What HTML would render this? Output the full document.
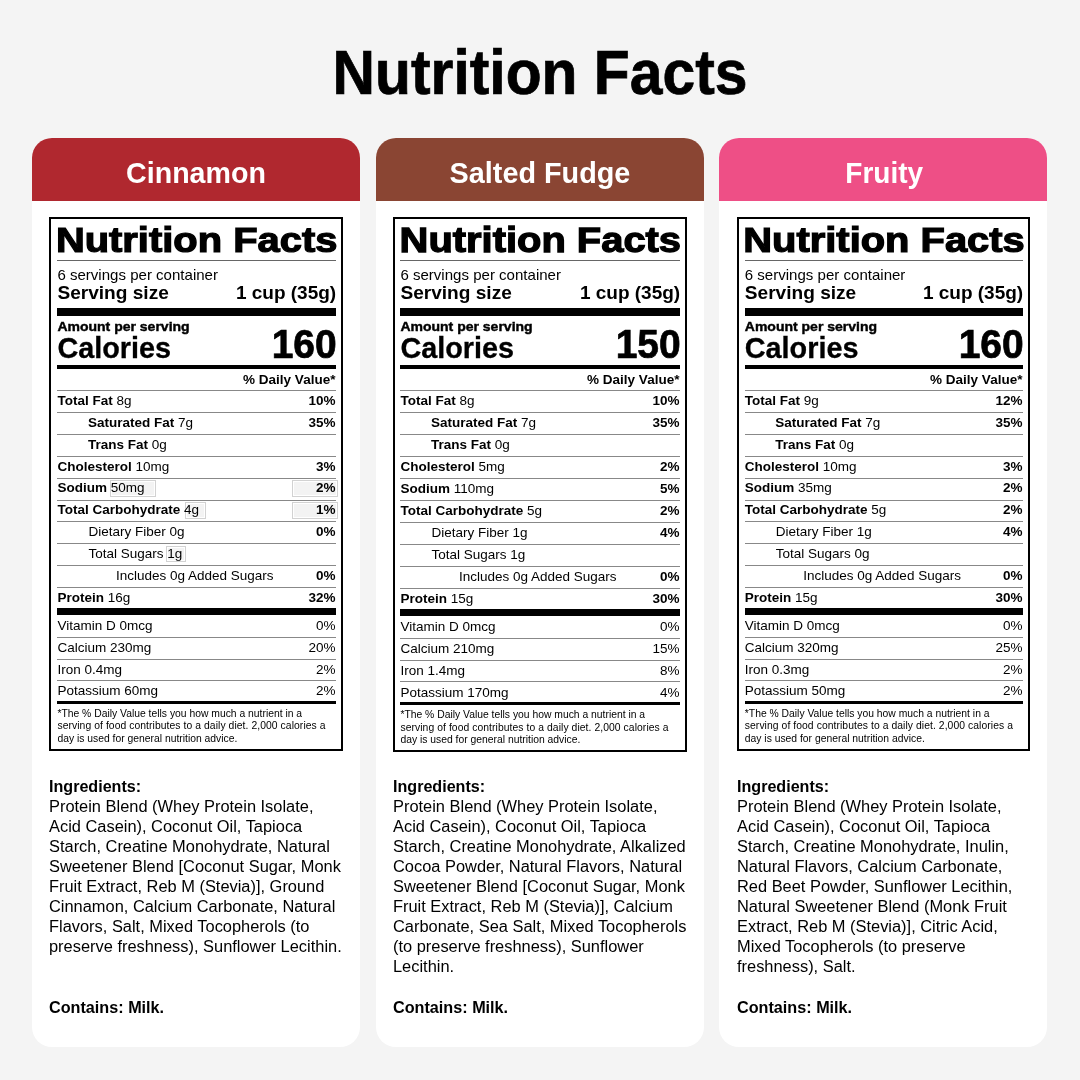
<!DOCTYPE html>
<html><head><meta charset="utf-8"><title>Nutrition Facts</title>
<style>
html,body{margin:0;padding:0;}
body{width:1080px;height:1080px;background:#f4f4f4;position:relative;overflow:hidden;font-family:"Liberation Sans", Arial, sans-serif;color:#000;}
.t{position:absolute;white-space:nowrap;line-height:1;}
.t b{font-weight:700;}
.r{position:absolute;}
.art{position:absolute;box-sizing:border-box;border:1px solid #d2d2d2;background:#f3f3f3;box-shadow:inset 0 0 0 1px #fff;}
.card{position:absolute;top:138px;width:328px;height:909px;background:#fff;border-radius:20px;overflow:hidden;}
.hd{position:absolute;left:0;top:0;width:100%;height:63px;}
.box{position:absolute;top:217px;width:294px;height:534px;border:2px solid #000;box-sizing:border-box;background:#fff;}
</style></head><body>
<div class="t" style="left:310.00px;width:460px;text-align:center;top:44.93px;font-size:58.80px;font-weight:700;transform:scale(1.0000,1.0645);transform-origin:50% 49.77px;-webkit-text-stroke:0.7px #000;">Nutrition Facts</div>
<div class="card" style="left:32px;"><div class="hd" style="background:#b0282f"></div></div>
<div class="t" style="left:-34.00px;width:460px;text-align:center;top:158.89px;font-size:28.60px;font-weight:700;transform:scale(1.0000,1.0622);transform-origin:50% 24.21px;color:#fff;">Cinnamon</div>
<div class="box" style="left:49px;width:294px;height:534px;"></div>
<div class="art" style="left:110.0px;top:480.2px;width:45.5px;height:17.0px;"></div>
<div class="art" style="left:184.8px;top:502.4px;width:20.8px;height:16.6px;"></div>
<div class="art" style="left:165.6px;top:546.4px;width:20.0px;height:16.0px;"></div>
<div class="art" style="left:292.3px;top:480.3px;width:45.4px;height:16.8px;"></div>
<div class="art" style="left:292.3px;top:502.3px;width:45.4px;height:16.6px;"></div>
<div class="t" style="left:55.90px;top:218.72px;font-size:39.90px;font-weight:700;transform:scale(1.0000,0.8597);transform-origin:0 33.78px;-webkit-text-stroke:1.40px #000;">Nutrition Facts</div>
<div class="r" style="left:57.40px;top:260.00px;width:278.60px;height:1.00px;background:#666;"></div>
<div class="t" style="left:57.40px;top:267.16px;font-size:15.05px;transform:scale(1.0000,0.9300);transform-origin:0 12.74px;">6 servings per container</div>
<div class="t" style="left:57.40px;top:283.13px;font-size:19.10px;font-weight:700;transform:scale(1.0000,0.9350);transform-origin:0 16.17px;">Serving size</div>
<div class="t" style="right:743.80px;top:283.22px;font-size:19.00px;font-weight:700;transform:scale(1.0000,0.9350);transform-origin:100% 16.08px;">1 cup (35g)</div>
<div class="r" style="left:57.40px;top:308.00px;width:278.60px;height:7.50px;background:#000;"></div>
<div class="t" style="left:57.40px;top:319.05px;font-size:14.00px;font-weight:700;transform:scale(1.0000,0.9600);transform-origin:0 11.85px;-webkit-text-stroke:0.45px #000;">Amount per serving</div>
<div class="t" style="left:57.40px;top:333.82px;font-size:28.80px;font-weight:700;transform:scale(1.0000,1.0500);transform-origin:0 24.38px;-webkit-text-stroke:0.3px #000;">Calories</div>
<div class="t" style="right:743.30px;top:324.99px;font-size:39.00px;font-weight:700;transform:scale(1.0000,1.0600);transform-origin:100% 33.01px;-webkit-text-stroke:0.7px #000;">160</div>
<div class="r" style="left:57.40px;top:365.00px;width:278.60px;height:3.70px;background:#000;"></div>
<div class="t" style="right:744.60px;top:372.67px;font-size:13.50px;font-weight:700;transform-origin:100% 11.43px;">% Daily Value*</div>
<div class="r" style="left:57.40px;top:390.40px;width:278.60px;height:1.00px;background:#888;"></div>
<div class="t" style="left:57.40px;top:394.17px;font-size:13.50px;transform-origin:0 11.43px;"><b>Total Fat</b> 8g</div>
<div class="t" style="right:744.60px;top:394.17px;font-size:13.50px;font-weight:700;transform-origin:100% 11.43px;">10%</div>
<div class="r" style="left:57.40px;top:412.23px;width:278.60px;height:1.00px;background:#888;"></div>
<div class="t" style="left:87.90px;top:416.00px;font-size:13.50px;transform-origin:0 11.43px;"><b>Saturated Fat</b> 7g</div>
<div class="t" style="right:744.60px;top:416.00px;font-size:13.50px;font-weight:700;transform-origin:100% 11.43px;">35%</div>
<div class="r" style="left:57.40px;top:434.06px;width:278.60px;height:1.00px;background:#888;"></div>
<div class="t" style="left:87.90px;top:437.83px;font-size:13.50px;transform-origin:0 11.43px;"><b>Trans Fat</b> 0g</div>
<div class="r" style="left:57.40px;top:455.89px;width:278.60px;height:1.00px;background:#888;"></div>
<div class="t" style="left:57.40px;top:459.66px;font-size:13.50px;transform-origin:0 11.43px;"><b>Cholesterol</b> 10mg</div>
<div class="t" style="right:744.60px;top:459.66px;font-size:13.50px;font-weight:700;transform-origin:100% 11.43px;">3%</div>
<div class="r" style="left:57.40px;top:477.72px;width:278.60px;height:1.00px;background:#888;"></div>
<div class="t" style="left:57.40px;top:481.49px;font-size:13.50px;transform-origin:0 11.43px;"><b>Sodium</b> 50mg</div>
<div class="t" style="right:744.60px;top:481.49px;font-size:13.50px;font-weight:700;transform-origin:100% 11.43px;">2%</div>
<div class="r" style="left:57.40px;top:499.55px;width:278.60px;height:1.00px;background:#888;"></div>
<div class="t" style="left:57.40px;top:503.32px;font-size:13.50px;transform-origin:0 11.43px;"><b>Total Carbohydrate</b> 4g</div>
<div class="t" style="right:744.60px;top:503.32px;font-size:13.50px;font-weight:700;transform-origin:100% 11.43px;">1%</div>
<div class="r" style="left:57.40px;top:521.38px;width:278.60px;height:1.00px;background:#888;"></div>
<div class="t" style="left:88.40px;top:525.15px;font-size:13.50px;transform-origin:0 11.43px;">Dietary Fiber 0g</div>
<div class="t" style="right:744.60px;top:525.15px;font-size:13.50px;font-weight:700;transform-origin:100% 11.43px;">0%</div>
<div class="r" style="left:57.40px;top:543.21px;width:278.60px;height:1.00px;background:#888;"></div>
<div class="t" style="left:88.40px;top:546.98px;font-size:13.50px;transform-origin:0 11.43px;">Total Sugars 1g</div>
<div class="r" style="left:57.40px;top:565.04px;width:278.60px;height:1.00px;background:#888;"></div>
<div class="t" style="left:115.90px;top:568.81px;font-size:13.50px;transform-origin:0 11.43px;">Includes 0g Added Sugars</div>
<div class="t" style="right:744.60px;top:568.81px;font-size:13.50px;font-weight:700;transform-origin:100% 11.43px;">0%</div>
<div class="r" style="left:57.40px;top:586.87px;width:278.60px;height:1.00px;background:#888;"></div>
<div class="t" style="left:57.40px;top:590.64px;font-size:13.50px;transform-origin:0 11.43px;"><b>Protein</b> 16g</div>
<div class="t" style="right:744.60px;top:590.64px;font-size:13.50px;font-weight:700;transform-origin:100% 11.43px;">32%</div>
<div class="r" style="left:57.40px;top:607.70px;width:278.60px;height:7.00px;background:#000;"></div>
<div class="t" style="left:57.40px;top:618.67px;font-size:13.50px;transform-origin:0 11.43px;">Vitamin D 0mcg</div>
<div class="t" style="right:744.60px;top:618.67px;font-size:13.50px;transform-origin:100% 11.43px;">0%</div>
<div class="r" style="left:57.40px;top:636.90px;width:278.60px;height:1.00px;background:#888;"></div>
<div class="t" style="left:57.40px;top:640.97px;font-size:13.50px;transform-origin:0 11.43px;">Calcium 230mg</div>
<div class="t" style="right:744.60px;top:640.97px;font-size:13.50px;transform-origin:100% 11.43px;">20%</div>
<div class="r" style="left:57.40px;top:658.50px;width:278.60px;height:1.00px;background:#888;"></div>
<div class="t" style="left:57.40px;top:662.77px;font-size:13.50px;transform-origin:0 11.43px;">Iron 0.4mg</div>
<div class="t" style="right:744.60px;top:662.77px;font-size:13.50px;transform-origin:100% 11.43px;">2%</div>
<div class="r" style="left:57.40px;top:680.30px;width:278.60px;height:1.00px;background:#888;"></div>
<div class="t" style="left:57.40px;top:684.37px;font-size:13.50px;transform-origin:0 11.43px;">Potassium 60mg</div>
<div class="t" style="right:744.60px;top:684.37px;font-size:13.50px;transform-origin:100% 11.43px;">2%</div>
<div class="r" style="left:57.40px;top:700.80px;width:278.60px;height:3.00px;background:#000;"></div>
<div class="t" style="left:57.40px;top:708.74px;font-size:10.35px;transform-origin:0 8.76px;">*The % Daily Value tells you how much a nutrient in a</div>
<div class="t" style="left:57.40px;top:721.24px;font-size:10.35px;transform-origin:0 8.76px;letter-spacing:0.07px;">serving of food contributes to a daily diet. 2,000 calories a</div>
<div class="t" style="left:57.40px;top:733.74px;font-size:10.35px;transform-origin:0 8.76px;">day is used for general nutrition advice.</div>
<div class="t" style="left:49.00px;top:777.87px;font-size:16.10px;font-weight:700;transform-origin:0 13.63px;">Ingredients:</div>
<div class="t" style="left:49.00px;top:798.00px;font-size:16.42px;transform-origin:0 13.90px;">Protein Blend (Whey Protein Isolate,</div>
<div class="t" style="left:49.00px;top:818.00px;font-size:16.42px;transform-origin:0 13.90px;">Acid Casein), Coconut Oil, Tapioca</div>
<div class="t" style="left:49.00px;top:838.00px;font-size:16.42px;transform-origin:0 13.90px;">Starch, Creatine Monohydrate, Natural</div>
<div class="t" style="left:49.00px;top:858.00px;font-size:16.42px;transform-origin:0 13.90px;">Sweetener Blend [Coconut Sugar, Monk</div>
<div class="t" style="left:49.00px;top:878.00px;font-size:16.42px;transform-origin:0 13.90px;">Fruit Extract, Reb M (Stevia)], Ground</div>
<div class="t" style="left:49.00px;top:898.00px;font-size:16.42px;transform-origin:0 13.90px;">Cinnamon, Calcium Carbonate, Natural</div>
<div class="t" style="left:49.00px;top:918.00px;font-size:16.42px;transform-origin:0 13.90px;">Flavors, Salt, Mixed Tocopherols (to</div>
<div class="t" style="left:49.00px;top:938.00px;font-size:16.42px;transform-origin:0 13.90px;">preserve freshness), Sunflower Lecithin.</div>
<div class="t" style="left:49.00px;top:999.39px;font-size:16.20px;font-weight:700;transform-origin:0 13.71px;">Contains: Milk.</div>
<div class="card" style="left:376px;"><div class="hd" style="background:#8a4533"></div></div>
<div class="t" style="left:310.00px;width:460px;text-align:center;top:158.72px;font-size:28.80px;font-weight:700;transform:scale(1.0000,1.0548);transform-origin:50% 24.38px;color:#fff;">Salted Fudge</div>
<div class="box" style="left:393px;width:294px;height:535px;"></div>
<div class="t" style="left:399.60px;top:219.02px;font-size:39.90px;font-weight:700;transform:scale(1.0000,0.8941);transform-origin:0 33.78px;-webkit-text-stroke:1.40px #000;">Nutrition Facts</div>
<div class="r" style="left:400.40px;top:260.00px;width:279.60px;height:1.00px;background:#666;"></div>
<div class="t" style="left:400.40px;top:267.16px;font-size:15.05px;transform:scale(1.0000,0.9300);transform-origin:0 12.74px;">6 servings per container</div>
<div class="t" style="left:400.40px;top:283.13px;font-size:19.10px;font-weight:700;transform:scale(1.0000,0.9350);transform-origin:0 16.17px;">Serving size</div>
<div class="t" style="right:399.80px;top:283.22px;font-size:19.00px;font-weight:700;transform:scale(1.0000,0.9350);transform-origin:100% 16.08px;">1 cup (35g)</div>
<div class="r" style="left:400.40px;top:308.00px;width:279.60px;height:7.50px;background:#000;"></div>
<div class="t" style="left:400.40px;top:319.05px;font-size:14.00px;font-weight:700;transform:scale(1.0000,0.9600);transform-origin:0 11.85px;-webkit-text-stroke:0.45px #000;">Amount per serving</div>
<div class="t" style="left:400.40px;top:333.82px;font-size:28.80px;font-weight:700;transform:scale(1.0000,1.0500);transform-origin:0 24.38px;-webkit-text-stroke:0.3px #000;">Calories</div>
<div class="t" style="right:399.30px;top:324.99px;font-size:39.00px;font-weight:700;transform:scale(1.0000,1.0600);transform-origin:100% 33.01px;-webkit-text-stroke:0.7px #000;">150</div>
<div class="r" style="left:400.40px;top:365.00px;width:279.60px;height:3.70px;background:#000;"></div>
<div class="t" style="right:400.60px;top:372.67px;font-size:13.50px;font-weight:700;transform-origin:100% 11.43px;">% Daily Value*</div>
<div class="r" style="left:400.40px;top:390.40px;width:279.60px;height:1.00px;background:#888;"></div>
<div class="t" style="left:400.40px;top:394.17px;font-size:13.50px;transform-origin:0 11.43px;"><b>Total Fat</b> 8g</div>
<div class="t" style="right:400.60px;top:394.17px;font-size:13.50px;font-weight:700;transform-origin:100% 11.43px;">10%</div>
<div class="r" style="left:400.40px;top:412.23px;width:279.60px;height:1.00px;background:#888;"></div>
<div class="t" style="left:430.90px;top:416.00px;font-size:13.50px;transform-origin:0 11.43px;"><b>Saturated Fat</b> 7g</div>
<div class="t" style="right:400.60px;top:416.00px;font-size:13.50px;font-weight:700;transform-origin:100% 11.43px;">35%</div>
<div class="r" style="left:400.40px;top:434.06px;width:279.60px;height:1.00px;background:#888;"></div>
<div class="t" style="left:430.90px;top:437.83px;font-size:13.50px;transform-origin:0 11.43px;"><b>Trans Fat</b> 0g</div>
<div class="r" style="left:400.40px;top:455.89px;width:279.60px;height:1.00px;background:#888;"></div>
<div class="t" style="left:400.40px;top:459.66px;font-size:13.50px;transform-origin:0 11.43px;"><b>Cholesterol</b> 5mg</div>
<div class="t" style="right:400.60px;top:459.66px;font-size:13.50px;font-weight:700;transform-origin:100% 11.43px;">2%</div>
<div class="r" style="left:400.40px;top:478.32px;width:279.60px;height:1.00px;background:#888;"></div>
<div class="t" style="left:400.40px;top:482.09px;font-size:13.50px;transform-origin:0 11.43px;"><b>Sodium</b> 110mg</div>
<div class="t" style="right:400.60px;top:482.09px;font-size:13.50px;font-weight:700;transform-origin:100% 11.43px;">5%</div>
<div class="r" style="left:400.40px;top:500.26px;width:279.60px;height:1.00px;background:#888;"></div>
<div class="t" style="left:400.40px;top:504.03px;font-size:13.50px;transform-origin:0 11.43px;"><b>Total Carbohydrate</b> 5g</div>
<div class="t" style="right:400.60px;top:504.03px;font-size:13.50px;font-weight:700;transform-origin:100% 11.43px;">2%</div>
<div class="r" style="left:400.40px;top:522.21px;width:279.60px;height:1.00px;background:#888;"></div>
<div class="t" style="left:431.40px;top:525.98px;font-size:13.50px;transform-origin:0 11.43px;">Dietary Fiber 1g</div>
<div class="t" style="right:400.60px;top:525.98px;font-size:13.50px;font-weight:700;transform-origin:100% 11.43px;">4%</div>
<div class="r" style="left:400.40px;top:544.15px;width:279.60px;height:1.00px;background:#888;"></div>
<div class="t" style="left:431.40px;top:547.92px;font-size:13.50px;transform-origin:0 11.43px;">Total Sugars 1g</div>
<div class="r" style="left:400.40px;top:566.09px;width:279.60px;height:1.00px;background:#888;"></div>
<div class="t" style="left:458.90px;top:569.87px;font-size:13.50px;transform-origin:0 11.43px;">Includes 0g Added Sugars</div>
<div class="t" style="right:400.60px;top:569.87px;font-size:13.50px;font-weight:700;transform-origin:100% 11.43px;">0%</div>
<div class="r" style="left:400.40px;top:588.04px;width:279.60px;height:1.00px;background:#888;"></div>
<div class="t" style="left:400.40px;top:591.81px;font-size:13.50px;transform-origin:0 11.43px;"><b>Protein</b> 15g</div>
<div class="t" style="right:400.60px;top:591.81px;font-size:13.50px;font-weight:700;transform-origin:100% 11.43px;">30%</div>
<div class="r" style="left:400.40px;top:608.98px;width:279.60px;height:7.00px;background:#000;"></div>
<div class="t" style="left:400.40px;top:619.67px;font-size:13.50px;transform-origin:0 11.43px;">Vitamin D 0mcg</div>
<div class="t" style="right:400.60px;top:619.67px;font-size:13.50px;transform-origin:100% 11.43px;">0%</div>
<div class="r" style="left:400.40px;top:637.90px;width:279.60px;height:1.00px;background:#888;"></div>
<div class="t" style="left:400.40px;top:641.97px;font-size:13.50px;transform-origin:0 11.43px;">Calcium 210mg</div>
<div class="t" style="right:400.60px;top:641.97px;font-size:13.50px;transform-origin:100% 11.43px;">15%</div>
<div class="r" style="left:400.40px;top:659.50px;width:279.60px;height:1.00px;background:#888;"></div>
<div class="t" style="left:400.40px;top:663.77px;font-size:13.50px;transform-origin:0 11.43px;">Iron 1.4mg</div>
<div class="t" style="right:400.60px;top:663.77px;font-size:13.50px;transform-origin:100% 11.43px;">8%</div>
<div class="r" style="left:400.40px;top:681.30px;width:279.60px;height:1.00px;background:#888;"></div>
<div class="t" style="left:400.40px;top:685.67px;font-size:13.50px;transform-origin:0 11.43px;">Potassium 170mg</div>
<div class="t" style="right:400.60px;top:685.67px;font-size:13.50px;transform-origin:100% 11.43px;">4%</div>
<div class="r" style="left:400.40px;top:702.10px;width:279.60px;height:3.00px;background:#000;"></div>
<div class="t" style="left:400.40px;top:710.04px;font-size:10.35px;transform-origin:0 8.76px;">*The % Daily Value tells you how much a nutrient in a</div>
<div class="t" style="left:400.40px;top:722.54px;font-size:10.35px;transform-origin:0 8.76px;letter-spacing:0.07px;">serving of food contributes to a daily diet. 2,000 calories a</div>
<div class="t" style="left:400.40px;top:735.04px;font-size:10.35px;transform-origin:0 8.76px;">day is used for general nutrition advice.</div>
<div class="t" style="left:393.00px;top:777.87px;font-size:16.10px;font-weight:700;transform-origin:0 13.63px;">Ingredients:</div>
<div class="t" style="left:393.00px;top:798.00px;font-size:16.42px;transform-origin:0 13.90px;">Protein Blend (Whey Protein Isolate,</div>
<div class="t" style="left:393.00px;top:818.00px;font-size:16.42px;transform-origin:0 13.90px;">Acid Casein), Coconut Oil, Tapioca</div>
<div class="t" style="left:393.00px;top:838.00px;font-size:16.42px;transform-origin:0 13.90px;">Starch, Creatine Monohydrate, Alkalized</div>
<div class="t" style="left:393.00px;top:858.00px;font-size:16.42px;transform-origin:0 13.90px;">Cocoa Powder, Natural Flavors, Natural</div>
<div class="t" style="left:393.00px;top:878.00px;font-size:16.42px;transform-origin:0 13.90px;">Sweetener Blend [Coconut Sugar, Monk</div>
<div class="t" style="left:393.00px;top:898.00px;font-size:16.42px;transform-origin:0 13.90px;">Fruit Extract, Reb M (Stevia)], Calcium</div>
<div class="t" style="left:393.00px;top:918.00px;font-size:16.42px;transform-origin:0 13.90px;">Carbonate, Sea Salt, Mixed Tocopherols</div>
<div class="t" style="left:393.00px;top:938.00px;font-size:16.42px;transform-origin:0 13.90px;">(to preserve freshness), Sunflower</div>
<div class="t" style="left:393.00px;top:958.00px;font-size:16.42px;transform-origin:0 13.90px;">Lecithin.</div>
<div class="t" style="left:393.00px;top:999.39px;font-size:16.20px;font-weight:700;transform-origin:0 13.71px;">Contains: Milk.</div>
<div class="card" style="left:719px;"><div class="hd" style="background:#ee4f86"></div></div>
<div class="t" style="left:654.20px;width:460px;text-align:center;top:160.20px;font-size:28.00px;font-weight:700;transform:scale(1.0000,1.0849);transform-origin:50% 23.70px;color:#fff;">Fruity</div>
<div class="box" style="left:737px;width:293px;height:534px;"></div>
<div class="t" style="left:743.30px;top:218.72px;font-size:39.90px;font-weight:700;transform:scale(1.0000,0.8597);transform-origin:0 33.78px;-webkit-text-stroke:1.40px #000;">Nutrition Facts</div>
<div class="r" style="left:744.80px;top:260.00px;width:278.20px;height:1.00px;background:#666;"></div>
<div class="t" style="left:744.80px;top:267.16px;font-size:15.05px;transform:scale(1.0000,0.9300);transform-origin:0 12.74px;">6 servings per container</div>
<div class="t" style="left:744.80px;top:283.13px;font-size:19.10px;font-weight:700;transform:scale(1.0000,0.9350);transform-origin:0 16.17px;">Serving size</div>
<div class="t" style="right:56.80px;top:283.22px;font-size:19.00px;font-weight:700;transform:scale(1.0000,0.9350);transform-origin:100% 16.08px;">1 cup (35g)</div>
<div class="r" style="left:744.80px;top:308.00px;width:278.20px;height:7.50px;background:#000;"></div>
<div class="t" style="left:744.80px;top:319.05px;font-size:14.00px;font-weight:700;transform:scale(1.0000,0.9600);transform-origin:0 11.85px;-webkit-text-stroke:0.45px #000;">Amount per serving</div>
<div class="t" style="left:744.80px;top:333.82px;font-size:28.80px;font-weight:700;transform:scale(1.0000,1.0500);transform-origin:0 24.38px;-webkit-text-stroke:0.3px #000;">Calories</div>
<div class="t" style="right:56.30px;top:324.99px;font-size:39.00px;font-weight:700;transform:scale(1.0000,1.0600);transform-origin:100% 33.01px;-webkit-text-stroke:0.7px #000;">160</div>
<div class="r" style="left:744.80px;top:365.00px;width:278.20px;height:3.70px;background:#000;"></div>
<div class="t" style="right:57.60px;top:372.67px;font-size:13.50px;font-weight:700;transform-origin:100% 11.43px;">% Daily Value*</div>
<div class="r" style="left:744.80px;top:390.40px;width:278.20px;height:1.00px;background:#888;"></div>
<div class="t" style="left:744.80px;top:394.17px;font-size:13.50px;transform-origin:0 11.43px;"><b>Total Fat</b> 9g</div>
<div class="t" style="right:57.60px;top:394.17px;font-size:13.50px;font-weight:700;transform-origin:100% 11.43px;">12%</div>
<div class="r" style="left:744.80px;top:412.23px;width:278.20px;height:1.00px;background:#888;"></div>
<div class="t" style="left:775.30px;top:416.00px;font-size:13.50px;transform-origin:0 11.43px;"><b>Saturated Fat</b> 7g</div>
<div class="t" style="right:57.60px;top:416.00px;font-size:13.50px;font-weight:700;transform-origin:100% 11.43px;">35%</div>
<div class="r" style="left:744.80px;top:434.06px;width:278.20px;height:1.00px;background:#888;"></div>
<div class="t" style="left:775.30px;top:437.83px;font-size:13.50px;transform-origin:0 11.43px;"><b>Trans Fat</b> 0g</div>
<div class="r" style="left:744.80px;top:455.89px;width:278.20px;height:1.00px;background:#888;"></div>
<div class="t" style="left:744.80px;top:459.66px;font-size:13.50px;transform-origin:0 11.43px;"><b>Cholesterol</b> 10mg</div>
<div class="t" style="right:57.60px;top:459.66px;font-size:13.50px;font-weight:700;transform-origin:100% 11.43px;">3%</div>
<div class="r" style="left:744.80px;top:477.72px;width:278.20px;height:1.00px;background:#888;"></div>
<div class="t" style="left:744.80px;top:481.49px;font-size:13.50px;transform-origin:0 11.43px;"><b>Sodium</b> 35mg</div>
<div class="t" style="right:57.60px;top:481.49px;font-size:13.50px;font-weight:700;transform-origin:100% 11.43px;">2%</div>
<div class="r" style="left:744.80px;top:499.55px;width:278.20px;height:1.00px;background:#888;"></div>
<div class="t" style="left:744.80px;top:503.32px;font-size:13.50px;transform-origin:0 11.43px;"><b>Total Carbohydrate</b> 5g</div>
<div class="t" style="right:57.60px;top:503.32px;font-size:13.50px;font-weight:700;transform-origin:100% 11.43px;">2%</div>
<div class="r" style="left:744.80px;top:521.38px;width:278.20px;height:1.00px;background:#888;"></div>
<div class="t" style="left:775.80px;top:525.15px;font-size:13.50px;transform-origin:0 11.43px;">Dietary Fiber 1g</div>
<div class="t" style="right:57.60px;top:525.15px;font-size:13.50px;font-weight:700;transform-origin:100% 11.43px;">4%</div>
<div class="r" style="left:744.80px;top:543.21px;width:278.20px;height:1.00px;background:#888;"></div>
<div class="t" style="left:775.80px;top:546.98px;font-size:13.50px;transform-origin:0 11.43px;">Total Sugars 0g</div>
<div class="r" style="left:744.80px;top:565.04px;width:278.20px;height:1.00px;background:#888;"></div>
<div class="t" style="left:803.30px;top:568.81px;font-size:13.50px;transform-origin:0 11.43px;">Includes 0g Added Sugars</div>
<div class="t" style="right:57.60px;top:568.81px;font-size:13.50px;font-weight:700;transform-origin:100% 11.43px;">0%</div>
<div class="r" style="left:744.80px;top:586.87px;width:278.20px;height:1.00px;background:#888;"></div>
<div class="t" style="left:744.80px;top:590.64px;font-size:13.50px;transform-origin:0 11.43px;"><b>Protein</b> 15g</div>
<div class="t" style="right:57.60px;top:590.64px;font-size:13.50px;font-weight:700;transform-origin:100% 11.43px;">30%</div>
<div class="r" style="left:744.80px;top:607.70px;width:278.20px;height:7.00px;background:#000;"></div>
<div class="t" style="left:744.80px;top:618.67px;font-size:13.50px;transform-origin:0 11.43px;">Vitamin D 0mcg</div>
<div class="t" style="right:57.60px;top:618.67px;font-size:13.50px;transform-origin:100% 11.43px;">0%</div>
<div class="r" style="left:744.80px;top:636.90px;width:278.20px;height:1.00px;background:#888;"></div>
<div class="t" style="left:744.80px;top:640.97px;font-size:13.50px;transform-origin:0 11.43px;">Calcium 320mg</div>
<div class="t" style="right:57.60px;top:640.97px;font-size:13.50px;transform-origin:100% 11.43px;">25%</div>
<div class="r" style="left:744.80px;top:658.50px;width:278.20px;height:1.00px;background:#888;"></div>
<div class="t" style="left:744.80px;top:662.77px;font-size:13.50px;transform-origin:0 11.43px;">Iron 0.3mg</div>
<div class="t" style="right:57.60px;top:662.77px;font-size:13.50px;transform-origin:100% 11.43px;">2%</div>
<div class="r" style="left:744.80px;top:680.30px;width:278.20px;height:1.00px;background:#888;"></div>
<div class="t" style="left:744.80px;top:684.37px;font-size:13.50px;transform-origin:0 11.43px;">Potassium 50mg</div>
<div class="t" style="right:57.60px;top:684.37px;font-size:13.50px;transform-origin:100% 11.43px;">2%</div>
<div class="r" style="left:744.80px;top:700.80px;width:278.20px;height:3.00px;background:#000;"></div>
<div class="t" style="left:744.80px;top:708.74px;font-size:10.35px;transform-origin:0 8.76px;">*The % Daily Value tells you how much a nutrient in a</div>
<div class="t" style="left:744.80px;top:721.24px;font-size:10.35px;transform-origin:0 8.76px;letter-spacing:0.07px;">serving of food contributes to a daily diet. 2,000 calories a</div>
<div class="t" style="left:744.80px;top:733.74px;font-size:10.35px;transform-origin:0 8.76px;">day is used for general nutrition advice.</div>
<div class="t" style="left:737.00px;top:777.87px;font-size:16.10px;font-weight:700;transform-origin:0 13.63px;">Ingredients:</div>
<div class="t" style="left:737.00px;top:798.00px;font-size:16.42px;transform-origin:0 13.90px;">Protein Blend (Whey Protein Isolate,</div>
<div class="t" style="left:737.00px;top:818.00px;font-size:16.42px;transform-origin:0 13.90px;">Acid Casein), Coconut Oil, Tapioca</div>
<div class="t" style="left:737.00px;top:838.00px;font-size:16.42px;transform-origin:0 13.90px;">Starch, Creatine Monohydrate, Inulin,</div>
<div class="t" style="left:737.00px;top:858.00px;font-size:16.42px;transform-origin:0 13.90px;">Natural Flavors, Calcium Carbonate,</div>
<div class="t" style="left:737.00px;top:878.00px;font-size:16.42px;transform-origin:0 13.90px;">Red Beet Powder, Sunflower Lecithin,</div>
<div class="t" style="left:737.00px;top:898.00px;font-size:16.42px;transform-origin:0 13.90px;">Natural Sweetener Blend (Monk Fruit</div>
<div class="t" style="left:737.00px;top:918.00px;font-size:16.42px;transform-origin:0 13.90px;">Extract, Reb M (Stevia)], Citric Acid,</div>
<div class="t" style="left:737.00px;top:938.00px;font-size:16.42px;transform-origin:0 13.90px;">Mixed Tocopherols (to preserve</div>
<div class="t" style="left:737.00px;top:958.00px;font-size:16.42px;transform-origin:0 13.90px;">freshness), Salt.</div>
<div class="t" style="left:737.00px;top:999.39px;font-size:16.20px;font-weight:700;transform-origin:0 13.71px;">Contains: Milk.</div>
</body></html>
